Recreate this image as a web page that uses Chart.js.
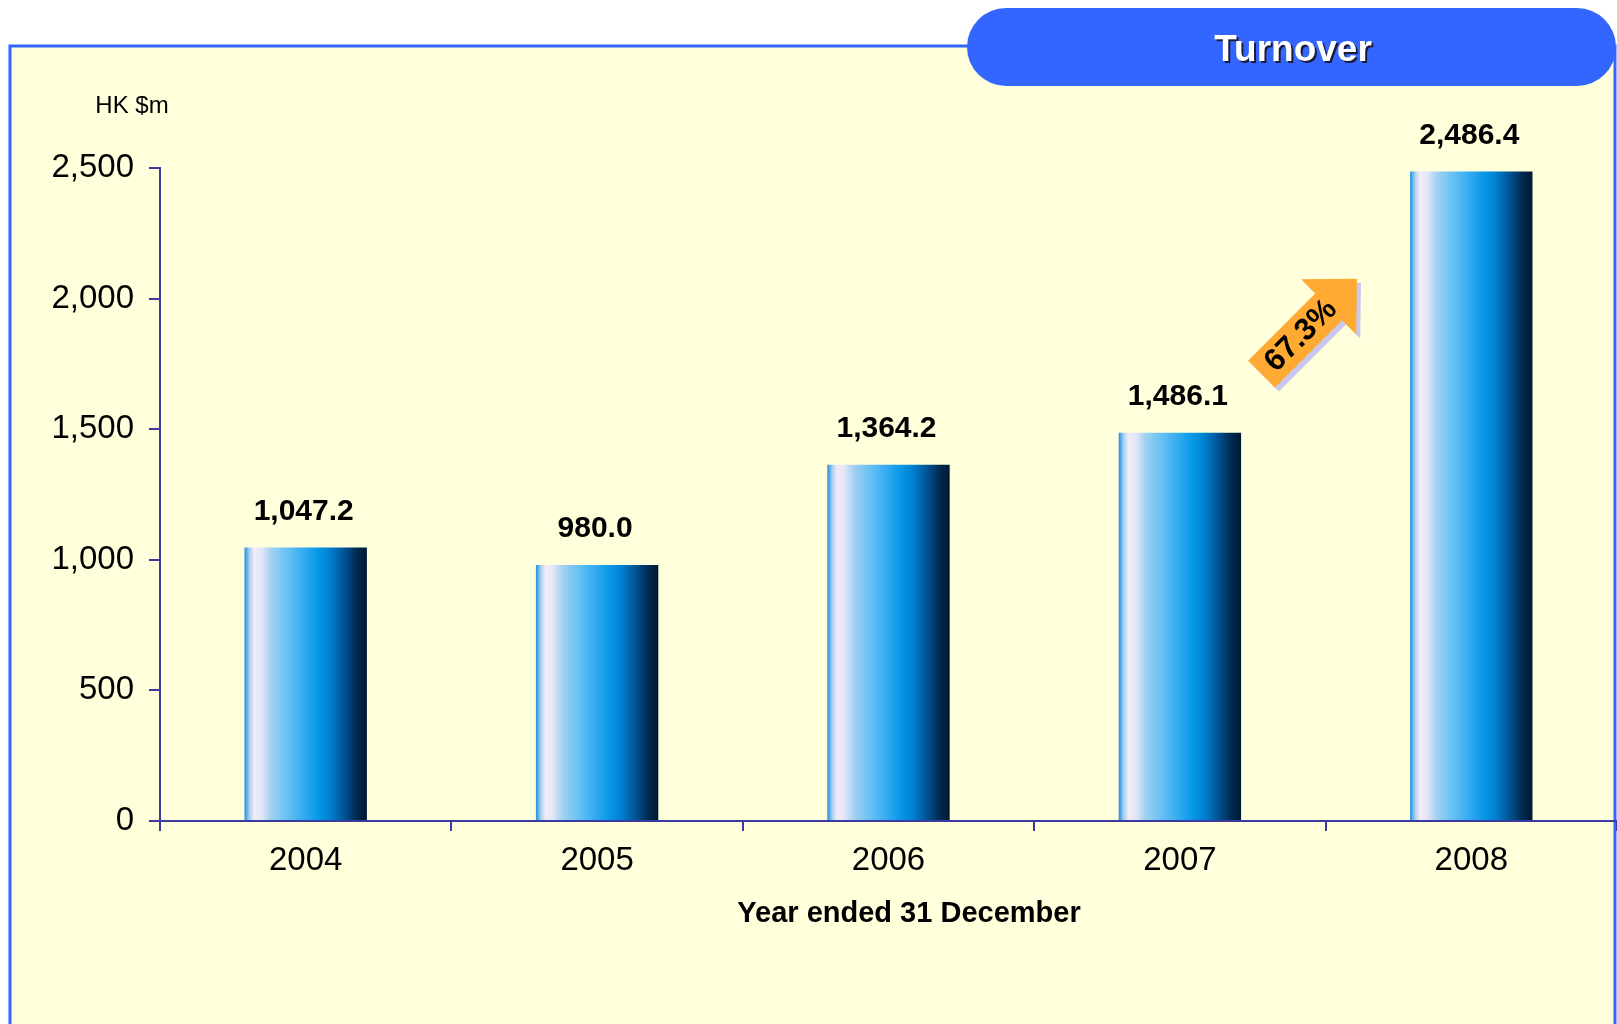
<!DOCTYPE html>
<html>
<head>
<meta charset="utf-8">
<title>Turnover</title>
<script src="https://cdn.jsdelivr.net/npm/chart.js@4.4.1/dist/chart.umd.min.js"></script>
<style>
  html, body { margin: 0; padding: 0; background: #ffffff; }
  canvas { display: block; }
</style>
</head>
<body>
<canvas id="turnoverChart" width="1617" height="1024"></canvas>
<script>
const years = ['2004', '2005', '2006', '2007', '2008'];
const turnover = [1047.2, 980.0, 1364.2, 1486.1, 2486.4];
const yTicks = [0, 500, 1000, 1500, 2000, 2500];
const growthLabel = '67.3%';

const FONT = '"Liberation Sans", Arial, sans-serif';
const AXIS = '#3c3ca0';
const PANEL_BG = '#ffffdc';
const PANEL_LINE = '#3366ff';

Chart.defaults.font.family = FONT;
Chart.defaults.color = '#000';

// gradient across each bar (left to right)
function barFill(c) {
    const chart = c.chart;
    const xs = chart.scales.x;
    if (!xs || c.dataIndex === undefined) return '#0098e8';
    const band = xs.width / years.length;
    const w = band * 0.42;
    const cx = xs.getPixelForValue(c.dataIndex);
    if (!Number.isFinite(cx) || !Number.isFinite(w) || w <= 0) return '#0098e8';
    const g = chart.ctx.createLinearGradient(cx - w / 2, 0, cx + w / 2, 0);
    g.addColorStop(0, '#1e8ee0');
    g.addColorStop(0.04, '#a8d0f0');
    g.addColorStop(0.08, '#f2ecf8');
    g.addColorStop(0.14, '#e4e6f8');
    g.addColorStop(0.22, '#a0d0f2');
    g.addColorStop(0.36, '#62c0f4');
    g.addColorStop(0.5, '#2ea8f0');
    g.addColorStop(0.6, '#0898e8');
    g.addColorStop(0.7, '#0080d0');
    g.addColorStop(0.82, '#005090');
    g.addColorStop(0.92, '#002a50');
    g.addColorStop(1, '#001830');
    return g;
}

const panelPlugin = {
    id: 'panel',
    beforeDraw(chart) {
        const ctx = chart.ctx;
        ctx.save();
        ctx.fillStyle = '#ffffff';
        ctx.fillRect(0, 0, chart.width, chart.height);
        ctx.fillStyle = PANEL_BG;
        ctx.fillRect(10, 46, 1605, chart.height);
        ctx.strokeStyle = PANEL_LINE;
        ctx.lineWidth = 3;
        ctx.beginPath();
        ctx.moveTo(10, chart.height + 5);
        ctx.lineTo(10, 46);
        ctx.lineTo(1615, 46);
        ctx.lineTo(1615, chart.height + 5);
        ctx.stroke();

        ctx.fillStyle = '#000';
        ctx.font = '24px ' + FONT;
        ctx.textAlign = 'center';
        ctx.textBaseline = 'middle';
        ctx.fillText('HK $m', 132, 106);
        ctx.restore();
    }
};

const labelPlugin = {
    id: 'barLabels',
    afterDatasetsDraw(chart) {
        const ctx = chart.ctx;
        const meta = chart.getDatasetMeta(0);
        ctx.save();
        ctx.fillStyle = '#000';
        ctx.font = 'bold 30px ' + FONT;
        ctx.textAlign = 'center';
        ctx.textBaseline = 'middle';
        meta.data.forEach((bar, i) => {
            const txt = turnover[i].toLocaleString('en-US', { minimumFractionDigits: 1, maximumFractionDigits: 1 });
            ctx.fillText(txt, bar.x - 2, bar.y - 36);
        });
        ctx.restore();
    }
};

const extrasPlugin = {
    id: 'extras',
    afterDraw(chart) {
        const ctx = chart.ctx;
        const xs = chart.scales.x, ys = chart.scales.y;

        // x axis caption
        ctx.save();
        ctx.fillStyle = '#000';
        ctx.font = 'bold 29px ' + FONT;
        ctx.textAlign = 'center';
        ctx.textBaseline = 'middle';
        ctx.fillText('Year ended 31 December', 909, 914);
        ctx.restore();

        // growth arrow between 2007 and 2008
        const tx = xs.getPixelForValue(3.28);
        const ty = ys.getPixelForValue(1711);
        const shape = [[0, -19], [95, -19], [95, -39], [135, 0], [95, 39], [95, 19], [0, 19]];
        const drawArrow = (dx, dy, color) => {
            ctx.save();
            ctx.translate(tx + dx, ty + dy);
            ctx.rotate(-Math.PI / 4);
            ctx.fillStyle = color;
            ctx.beginPath();
            shape.forEach((p, i) => i ? ctx.lineTo(p[0], p[1]) : ctx.moveTo(p[0], p[1]));
            ctx.closePath();
            ctx.fill();
            ctx.restore();
        };
        drawArrow(4, 4, '#c8c8f0');
        drawArrow(0, 0, '#ffaa33');
        ctx.save();
        ctx.translate(tx, ty);
        ctx.rotate(-Math.PI / 4);
        ctx.fillStyle = '#000';
        ctx.font = 'bold 31px ' + FONT;
        ctx.textAlign = 'center';
        ctx.textBaseline = 'middle';
        ctx.fillText(growthLabel, 55, 1);
        ctx.restore();

        // title pill
        ctx.save();
        const px = 967, py = 8, pw = 649, ph = 78, r = 39;
        ctx.fillStyle = '#3366ff';
        ctx.beginPath();
        ctx.moveTo(px + r, py);
        ctx.lineTo(px + pw - r, py);
        ctx.arc(px + pw - r, py + r, r, -Math.PI / 2, Math.PI / 2);
        ctx.lineTo(px + r, py + ph);
        ctx.arc(px + r, py + r, r, Math.PI / 2, Math.PI * 1.5);
        ctx.closePath();
        ctx.fill();
        ctx.font = 'bold 37px ' + FONT;
        ctx.textAlign = 'center';
        ctx.textBaseline = 'middle';
        ctx.fillStyle = '#1a1a3a';
        ctx.fillText('Turnover', 1295, 53);
        ctx.fillStyle = '#ffffff';
        ctx.fillText('Turnover', 1293, 51);
        ctx.restore();
    }
};

const turnoverChart = new Chart(document.getElementById('turnoverChart').getContext('2d'), {
    type: 'bar',
    data: {
        labels: years,
        datasets: [{
            label: 'Turnover',
            data: turnover,
            backgroundColor: barFill,
            borderWidth: 0,
            barPercentage: 0.42,
            categoryPercentage: 1.0
        }]
    },
    options: {
        responsive: false,
        animation: false,
        devicePixelRatio: 1,
        layout: { padding: { top: 168, left: 0, right: 0, bottom: 0 } },
        plugins: {
            legend: { display: false },
            tooltip: { enabled: false }
        },
        scales: {
            x: {
                grid: {
                    display: true,
                    drawOnChartArea: false,
                    drawTicks: true,
                    tickLength: 10,
                    color: AXIS,
                    lineWidth: 2,
                    offset: true
                },
                border: { display: true, color: AXIS, width: 2 },
                ticks: { font: { size: 33 }, color: '#000', padding: 10 },
                afterFit(s) { s.height = 203; }
            },
            y: {
                min: 0,
                max: 2500,
                afterBuildTicks(s) { s.ticks = yTicks.map(v => ({ value: v })); },
                grid: {
                    display: true,
                    drawOnChartArea: false,
                    drawTicks: true,
                    tickLength: 11,
                    color: AXIS,
                    lineWidth: 2
                },
                border: { display: true, color: AXIS, width: 2 },
                ticks: {
                    font: { size: 33 },
                    color: '#000',
                    padding: 15,
                    callback: v => v.toLocaleString('en-US')
                },
                afterFit(s) { s.width = 160; }
            }
        }
    },
    plugins: [panelPlugin, labelPlugin, extrasPlugin]
});
</script>
</body>
</html>
